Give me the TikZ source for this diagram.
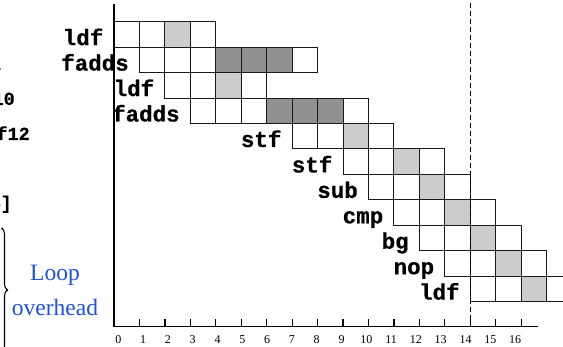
\documentclass[tikz,border=0pt]{standalone}
\usepackage{fontspec}
\setmainfont{Liberation Serif}
\newfontfamily\codefont[BoldFeatures={FakeBold=0.6}]{Liberation Mono}
\usetikzlibrary{decorations.pathreplacing}
\definecolor{loopblue}{RGB}{30,80,220}
\definecolor{lightcell}{RGB}{204,204,204}
\definecolor{darkcell}{RGB}{145,145,145}
\begin{document}
\begin{tikzpicture}[x=1pt,y=-1pt,
  cellbox/.style={draw=black!90,line width=1pt},
  oplabel/.style={anchor=base east,inner sep=0pt,font=\codefont\bfseries\fontsize{22.5}{25}\selectfont},
  codeline/.style={anchor=base east,inner sep=0pt,font=\codefont\bfseries\fontsize{18.5}{21}\selectfont},
  ticklabel/.style={anchor=base,inner sep=0pt,font=\fontsize{12}{14}\selectfont},
  axisline/.style={line width=1.2pt},
  bluetext/.style={anchor=base,inner sep=0pt,text=loopblue,font=\fontsize{23.5}{26}\selectfont},
]
\def\u{25.45}
\def\xo{114}
\def\yo{21.7}
\useasboundingbox (0,0) rectangle (563,347);
\clip (0,0) rectangle (563,347);

% code listing running in from the left
\node[codeline] (codeA) at (1.5,70) {f2};
\node[codeline] (codeB) at (15,105) {f10};
\node[codeline] (codeC) at (30,140) {f12};
\node[codeline] (codeD) at (12,209) {4]};

% brace and its caption
\coordinate (braceTop) at (1.5,228);
\coordinate (braceBot) at (1.5,352);
\draw[decorate,decoration={brace,amplitude=6pt},line width=1.1pt] (braceTop) -- (braceBot);
\node[bluetext] (loopA) at (55,281) {Loop};
\node[bluetext] (loopB) at (55,315.7) {overhead};

% shaded pipeline stages
\foreach \c/\r in {2/0,4/2,9/4,11/5,12/6,13/7,14/8,15/9,16/10}
  \fill[lightcell] ({\xo+\c*\u},{\yo+\r*\u}) rectangle ++(\u,\u);
\foreach \c/\r in {4/1,5/1,6/1,6/3,7/3,8/3}
  \fill[darkcell] ({\xo+\c*\u},{\yo+\r*\u}) rectangle ++(\u,\u);

% cell outlines, one row per instruction
\foreach \r/\a/\b in {0/0/3,1/1/7,2/2/5,3/3/9,4/7/10,5/9/12,6/10/13,7/11/14,8/12/15,9/13/16,10/14/17}
  \foreach \c in {\a,...,\b}
    \draw[cellbox] ({\xo+\c*\u},{\yo+\r*\u}) rectangle ++(\u,\u);

% instruction names
\foreach \r/\a/\t/\nm in {0/0/ldf/ldfA,1/1/fadds/faddsA,2/2/ldf/ldfB,3/3/fadds/faddsB,4/7/stf/stfA,5/9/stf/stfB,6/10/sub/sub,7/11/cmp/cmp,8/12/bg/bg,9/13/nop/nop,10/14/ldf/ldfC}
  \node[oplabel] (\nm) at ({\xo+\a*\u-10.5},{\yo+(\r+1)*\u-2}) {\t};

% axes
\coordinate (origin) at (\xo,326.7);
\coordinate (yTop) at (\xo,4);
\coordinate (xEnd) at (538,326.7);
\draw[axisline] (yTop) -- (origin) -- (xEnd);
\foreach \k in {1,...,16}
  \draw[axisline] ({\xo+\k*\u},326.7) -- ++(0,-7.3);
\foreach \k in {0,...,16}
  \node[ticklabel] (t\k) at ({118.3+24.8*\k},344) {\k};

% end of the loop body
\coordinate (cutTop) at ({\xo+14*\u},3);
\coordinate (cutBot) at ({\xo+14*\u},326.7);
\draw[line width=0.9pt,dash pattern=on 5pt off 3pt] (cutTop) -- (cutBot);
\end{tikzpicture}
\end{document}
